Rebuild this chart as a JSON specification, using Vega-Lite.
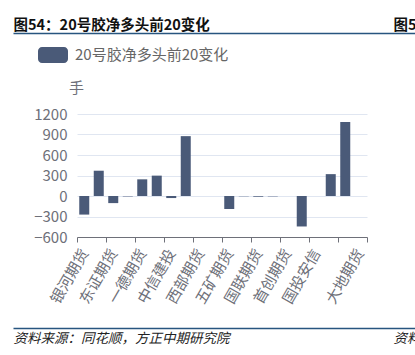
{
  "$schema": "https://vega.github.io/schema/vega-lite/v6.json",
  "padding": {"left": 13, "right": -16, "top": 17, "bottom": 0},
  "background": "#ffffff",
  "config": {"view": {"stroke": null}, "font": "Noto Sans CJK SC"},
  "columns": 1,
  "align": "each",
  "bounds": "flush",
  "center": true,
  "spacing": 81,
  "concat": [
    {
      "width": 418,
      "height": 1,
      "data": {"values": []},
      "mark": "rule",
      "encoding": {
        "x": {"field": "v", "type": "quantitative", "scale": {"domain": [0, 1]},
          "axis": {"orient": "bottom", "domain": true, "domainColor": "#27557f", "domainWidth": 1.5, "ticks": false, "labels": false, "grid": false,
            "title": "图5", "titleX": 380, "titleY": -8, "titleAlign": "left", "titleBaseline": "middle", "titleFontSize": 14.5, "titleFontWeight": "bold", "titleColor": "#111111", "titleFont": "Noto Sans CJK SC"}},
        "y": {"field": "w", "type": "quantitative", "scale": {"domain": [0, 1]},
          "axis": {"orient": "left", "domain": false, "ticks": false, "labels": false, "grid": false,
            "title": "图54：20号胶净多头前20变化", "titleAngle": 0, "titleX": 0, "titleY": -7, "titleAlign": "left", "titleBaseline": "middle", "titleFontSize": 14.5, "titleFontWeight": "bold", "titleColor": "#111111", "titleFont": "Noto Sans CJK SC"}}
      }
    },
    {
      "width": 290,
      "height": 123,
      "data": {"values": [
        {"name": "银河期货", "value": -272, "series": "20号胶净多头前20变化"},
        {"name": "国泰君安", "value": 370, "series": "20号胶净多头前20变化"},
        {"name": "东证期货", "value": -104, "series": "20号胶净多头前20变化"},
        {"name": "华泰期货", "value": -6, "series": "20号胶净多头前20变化"},
        {"name": "一德期货", "value": 244, "series": "20号胶净多头前20变化"},
        {"name": "海通期货", "value": 298, "series": "20号胶净多头前20变化"},
        {"name": "中信建投", "value": -30, "series": "20号胶净多头前20变化"},
        {"name": "光大期货", "value": 876, "series": "20号胶净多头前20变化"},
        {"name": "西部期货", "value": 0, "series": "20号胶净多头前20变化"},
        {"name": "中粮期货", "value": 0, "series": "20号胶净多头前20变化"},
        {"name": "五矿期货", "value": -190, "series": "20号胶净多头前20变化"},
        {"name": "申银万国", "value": -4, "series": "20号胶净多头前20变化"},
        {"name": "国联期货", "value": -10, "series": "20号胶净多头前20变化"},
        {"name": "南华期货", "value": -5, "series": "20号胶净多头前20变化"},
        {"name": "首创期货", "value": 0, "series": "20号胶净多头前20变化"},
        {"name": "永安期货", "value": -446, "series": "20号胶净多头前20变化"},
        {"name": "国投安信", "value": 0, "series": "20号胶净多头前20变化"},
        {"name": "浙商期货", "value": 320, "series": "20号胶净多头前20变化"},
        {"name": "广发期货", "value": 1083, "series": "20号胶净多头前20变化"},
        {"name": "大地期货", "value": 0, "series": "20号胶净多头前20变化"}
      ]},
      "mark": {"type": "bar", "width": {"band": 0.69}},
      "encoding": {
        "x": {"field": "name", "type": "nominal", "sort": null,
          "scale": {"paddingInner": 0, "paddingOuter": 0},
          "axis": {"title": null, "tickBand": "extent", "labelAngle": -60, "labelAlign": "right", "labelBaseline": "middle",
            "labelExpr": "indexof(['银河期货','东证期货','一德期货','中信建投','西部期货','五矿期货','国联期货','首创期货','国投安信','大地期货'], datum.label) >= 0 ? datum.label : ''",
            "tickOpacity": {"condition": {"test": "datum.index < 0 || round(datum.index * 19) % 2 == 1", "value": 1}, "value": 0},
            "domainColor": "#6e7079", "tickColor": "#6e7079", "tickSize": 5, "labelColor": "#6e7079", "labelFontSize": 15, "labelPadding": 8,
            "labelOverlap": false, "labelFont": "Noto Sans CJK SC", "grid": false}},
        "y": {"field": "value", "type": "quantitative", "scale": {"domain": [-600, 1200], "nice": false},
          "axis": {"values": [-600, -300, 0, 300, 600, 900, 1200], "format": "d", "title": "手", "titleAngle": 0, "titleX": -1, "titleY": -27, "titleAlign": "center", "titleBaseline": "middle",
            "titleColor": "#6e7079", "titleFontSize": 15, "titleFontWeight": "normal", "titleFont": "Noto Sans CJK SC",
            "domain": false, "ticks": false, "labelColor": "#6e7079", "labelFontSize": 15, "labelPadding": 10, "labelFont": "Noto Sans CJK SC",
            "gridColor": "#e0e6f1", "gridWidth": 1}},
        "color": {"field": "series", "type": "nominal", "scale": {"range": ["#4a5a78"]},
          "legend": {"orient": "none", "legendX": 25, "legendY": 8, "title": null, "padding": 0, "labelLimit": 400,
            "symbolType": "M-0.733,-0.533H0.733A0.267,0.267 0 0 1 1,-0.267V0.267A0.267,0.267 0 0 1 0.733,0.533H-0.733A0.267,0.267 0 0 1 -1,0.267V-0.267A0.267,0.267 0 0 1 -0.733,-0.533Z",
            "symbolSize": 900, "symbolStrokeWidth": 0, "labelFontSize": 15, "labelColor": "#666666", "labelOffset": 7, "labelFont": "Noto Sans CJK SC"}}
      }
    },
    {
      "width": 418,
      "height": 10,
      "data": {"values": []},
      "mark": "rule",
      "encoding": {
        "x": {"field": "v", "type": "quantitative", "scale": {"domain": [0, 1]},
          "axis": {"orient": "bottom", "domain": true, "domainColor": "#27557f", "domainWidth": 1.5, "ticks": false, "labels": false, "grid": false,
            "title": "资料来源", "titleX": 380, "titleY": 10, "titleAlign": "left", "titleBaseline": "middle", "titleFontSize": 13.5, "titleFontWeight": "normal", "titleFontStyle": "italic", "titleColor": "#222222", "titleFont": "Noto Sans CJK SC"}},
        "y": {"field": "w", "type": "quantitative", "scale": {"domain": [0, 1]},
          "axis": {"orient": "left", "domain": false, "ticks": false, "labels": false, "grid": false,
            "title": "资料来源：同花顺，方正中期研究院", "titleAngle": 0, "titleX": 0, "titleY": 20, "titleAlign": "left", "titleBaseline": "middle", "titleFontSize": 13.5, "titleFontWeight": "normal", "titleFontStyle": "italic", "titleColor": "#222222", "titleFont": "Noto Sans CJK SC"}}
      }
    }
  ]
}
